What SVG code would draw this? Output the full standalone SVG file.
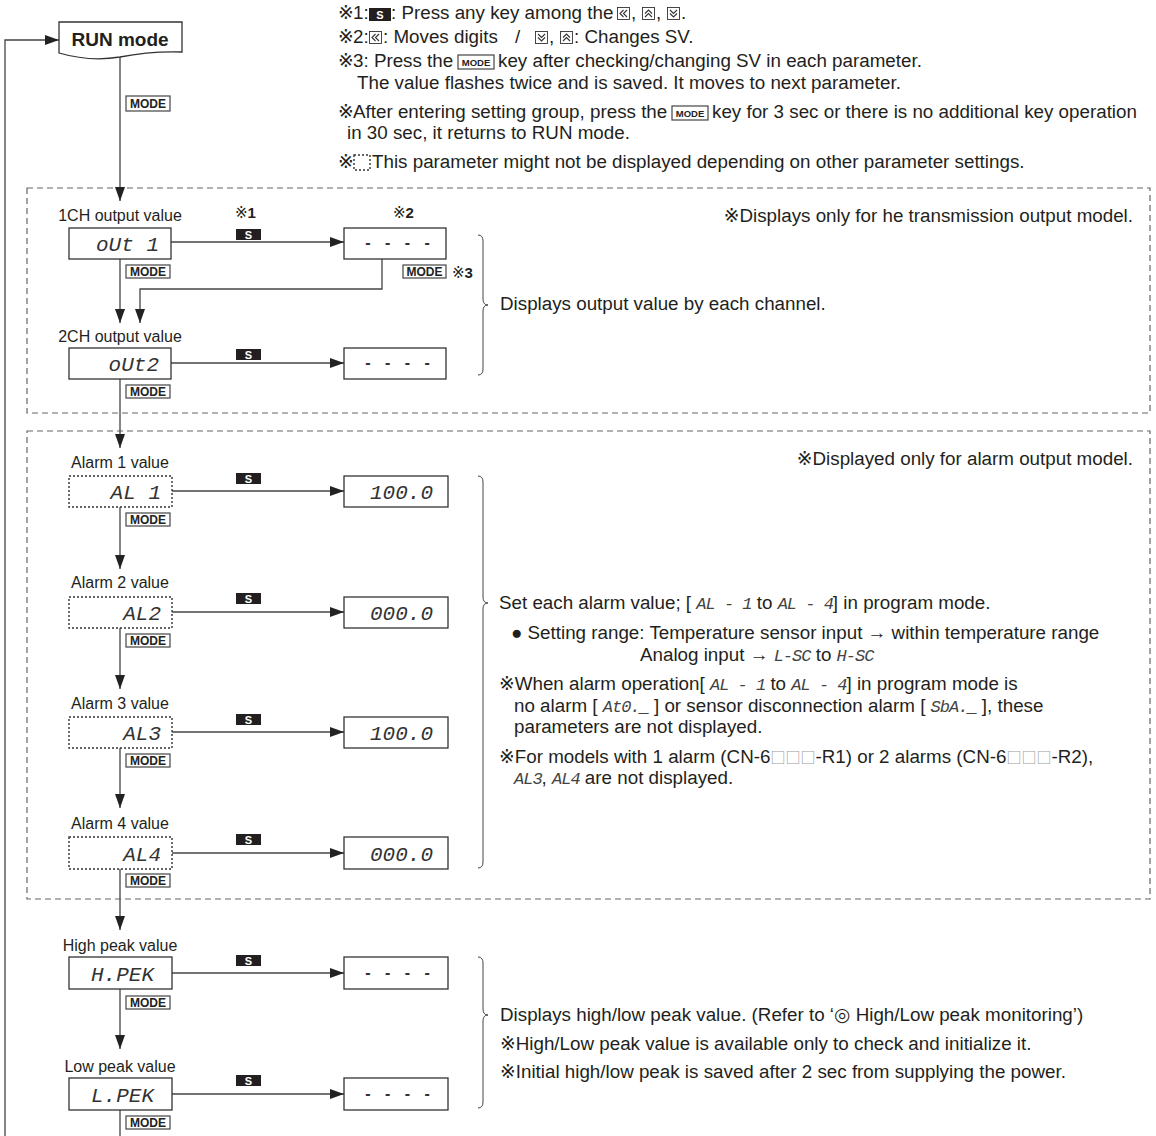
<svg xmlns="http://www.w3.org/2000/svg" width="1156" height="1136" viewBox="0 0 1156 1136">
<defs>
<style>
.t{font-family:"Liberation Sans","DejaVu Sans","Noto Sans CJK JP",sans-serif;font-size:18.8px;fill:#231f20}
.lb{font-family:"Liberation Sans",sans-serif;font-size:16px;fill:#231f20;text-anchor:middle}
.seg{font-family:"Liberation Mono",monospace;font-style:italic;font-size:17px;fill:#444;letter-spacing:-1px}
.sg{font-family:"Liberation Mono",monospace;font-style:italic;font-size:21px;fill:#333}
.dash{font-family:"Liberation Sans",sans-serif;font-weight:bold;font-size:16px;fill:#333;text-anchor:middle;letter-spacing:5px}
.box{fill:#fff;stroke:#333;stroke-width:1.3}
.dbox{fill:#fff;stroke:#333;stroke-width:1.4;stroke-dasharray:2 2}
.grp{fill:none;stroke:#666;stroke-width:1.2;stroke-dasharray:6 4}
.ln{fill:none;stroke:#444;stroke-width:1.3}
.br{fill:none;stroke:#444;stroke-width:1}
.mk{fill:#fff;stroke:#444;stroke-width:1.2}
.mkt{font-family:"Liberation Sans",sans-serif;font-weight:bold;font-size:12px;fill:#222;text-anchor:middle}
.sk{fill:#231f20}
.skt{font-family:"Liberation Sans",sans-serif;font-weight:bold;font-size:11px;fill:#fff;text-anchor:middle}
.ico{fill:#fff;stroke:#333;stroke-width:0.9}
.chev{fill:none;stroke:#333;stroke-width:1.1}
.sq{fill:#999;font-family:"Noto Sans CJK JP",sans-serif;font-size:15px}
</style>
<marker id="ah" viewBox="0 0 14 10" markerWidth="14" markerHeight="10" refX="14" refY="5" orient="auto" markerUnits="userSpaceOnUse"><path d="M0,0 L14,5 L0,10 Z" fill="#222"/></marker>
<symbol id="kL" viewBox="0 0 13 13"><rect class="ico" x="0.5" y="0.5" width="12" height="12"/><polyline class="chev" points="6.5,3 3,6.5 6.5,10"/><polyline class="chev" points="10,3 6.5,6.5 10,10"/></symbol>
<symbol id="kU" viewBox="0 0 13 13"><rect class="ico" x="0.5" y="0.5" width="12" height="12"/><polyline class="chev" points="3,6.5 6.5,3 10,6.5"/><polyline class="chev" points="3,10 6.5,6.5 10,10"/></symbol>
<symbol id="kD" viewBox="0 0 13 13"><rect class="ico" x="0.5" y="0.5" width="12" height="12"/><polyline class="chev" points="3,3 6.5,6.5 10,3"/><polyline class="chev" points="3,6.5 6.5,10 10,6.5"/></symbol>
</defs>
<rect width="1156" height="1136" fill="#fff"/>

<!-- group frames -->
<rect class="grp" x="27" y="188" width="1123" height="225"/>
<rect class="grp" x="27" y="431" width="1123" height="468"/>

<!-- top notes -->
<g id="notes">
<text class="t" x="338" y="19">※</text><text class="t" x="353" y="19">1:</text>
<rect class="sk" x="369" y="8" width="22" height="13"/><text class="skt" x="380" y="18.5">S</text>
<text class="t" x="391" y="19">: Press any key among the</text>
<use href="#kL" x="617" y="7" width="13" height="13"/>
<text class="t" x="631" y="19">,</text>
<use href="#kU" x="642" y="7" width="13" height="13"/>
<text class="t" x="656" y="19">,</text>
<use href="#kD" x="667" y="7" width="13" height="13"/>
<text class="t" x="681" y="19">.</text>

<text class="t" x="338" y="43">※</text><text class="t" x="353" y="43">2:</text>
<use href="#kL" x="369" y="31" width="13" height="13"/>
<text class="t" x="383" y="43">: Moves digits</text>
<text class="t" x="515" y="43">/</text>
<use href="#kD" x="535" y="31" width="13" height="13"/>
<text class="t" x="549" y="43">,</text>
<use href="#kU" x="560" y="31" width="13" height="13"/>
<text class="t" x="574" y="43">: Changes SV.</text>

<text class="t" x="338" y="67">※</text><text class="t" x="353" y="67">3: Press the</text>
<rect class="mk" x="458" y="55" width="36" height="14"/><text class="mkt" x="476" y="66" style="font-size:9.5px">MODE</text>
<text class="t" x="498" y="67">key after checking/changing SV in each parameter.</text>
<text class="t" x="357" y="89">The value flashes twice and is saved. It moves to next parameter.</text>

<text class="t" x="338" y="118">※</text><text class="t" x="353" y="118">After entering setting group, press the</text>
<rect class="mk" x="672" y="106" width="36" height="14"/><text class="mkt" x="690" y="117" style="font-size:9.5px">MODE</text>
<text class="t" x="712" y="118">key for 3 sec or there is no additional key operation</text>
<text class="t" x="347" y="139">in 30 sec, it returns to RUN mode.</text>

<text class="t" x="338" y="168">※</text>
<rect class="dbox" x="354" y="155" width="16" height="15"/>
<text class="t" x="372" y="168">This parameter might not be displayed depending on other parameter settings.</text>
</g>

<!-- connectors -->
<g id="connectors">
<polyline class="ln" points="5,1136 5,40 59,40" marker-end="url(#ah)"/>
<line class="ln" x1="120" y1="57" x2="120" y2="201" marker-end="url(#ah)"/>
<line class="ln" x1="171" y1="242" x2="344" y2="242" marker-end="url(#ah)"/>
<line class="ln" x1="120" y1="259" x2="120" y2="323" marker-end="url(#ah)"/>
<polyline class="ln" points="382,259 382,289 140,289 140,323" marker-end="url(#ah)"/>
<line class="ln" x1="171" y1="363" x2="344" y2="363" marker-end="url(#ah)"/>
<line class="ln" x1="120" y1="379" x2="120" y2="448" marker-end="url(#ah)"/>
<line class="ln" x1="172" y1="491" x2="344" y2="491" marker-end="url(#ah)"/>
<line class="ln" x1="120" y1="507" x2="120" y2="569" marker-end="url(#ah)"/>
<line class="ln" x1="172" y1="612" x2="344" y2="612" marker-end="url(#ah)"/>
<line class="ln" x1="120" y1="628" x2="120" y2="689" marker-end="url(#ah)"/>
<line class="ln" x1="172" y1="732" x2="344" y2="732" marker-end="url(#ah)"/>
<line class="ln" x1="120" y1="748" x2="120" y2="808" marker-end="url(#ah)"/>
<line class="ln" x1="172" y1="853" x2="344" y2="853" marker-end="url(#ah)"/>
<line class="ln" x1="120" y1="869" x2="120" y2="930" marker-end="url(#ah)"/>
<line class="ln" x1="172" y1="973" x2="344" y2="973" marker-end="url(#ah)"/>
<line class="ln" x1="120" y1="989" x2="120" y2="1049" marker-end="url(#ah)"/>
<line class="ln" x1="172" y1="1094" x2="344" y2="1094" marker-end="url(#ah)"/>
<line class="ln" x1="120" y1="1110" x2="120" y2="1136"/>
<!-- key labels on connectors -->
<rect class="mk" x="126" y="96" width="44" height="15"/><text class="mkt" x="148" y="108">MODE</text>
<rect class="mk" x="126" y="265" width="44" height="13"/><text class="mkt" x="148" y="276">MODE</text>
<rect class="mk" x="403" y="265" width="43" height="13"/><text class="mkt" x="424.5" y="276">MODE</text>
<text class="t" x="452" y="278" style="font-size:15px">※<tspan font-weight="bold">3</tspan></text>
<rect class="mk" x="126" y="385" width="44" height="13"/><text class="mkt" x="148" y="396">MODE</text>
<rect class="mk" x="126" y="513" width="44" height="13"/><text class="mkt" x="148" y="524">MODE</text>
<rect class="mk" x="126" y="634" width="44" height="13"/><text class="mkt" x="148" y="645">MODE</text>
<rect class="mk" x="126" y="754" width="44" height="13"/><text class="mkt" x="148" y="765">MODE</text>
<rect class="mk" x="126" y="874" width="44" height="13"/><text class="mkt" x="148" y="885">MODE</text>
<rect class="mk" x="126" y="996" width="44" height="13"/><text class="mkt" x="148" y="1007">MODE</text>
<rect class="mk" x="126" y="1116" width="44" height="13"/><text class="mkt" x="148" y="1127">MODE</text>
<text class="t" x="235" y="218" style="font-size:15px">※<tspan font-weight="bold">1</tspan></text>
<text class="t" x="393" y="218" style="font-size:15px">※<tspan font-weight="bold">2</tspan></text>
<rect class="sk" x="236" y="229" width="25" height="11"/><text class="skt" x="248.5" y="238.5">S</text>
<rect class="sk" x="236" y="349" width="25" height="11"/><text class="skt" x="248.5" y="358.5">S</text>
<rect class="sk" x="236" y="473" width="25" height="11"/><text class="skt" x="248.5" y="482.5">S</text>
<rect class="sk" x="236" y="593" width="25" height="11"/><text class="skt" x="248.5" y="602.5">S</text>
<rect class="sk" x="236" y="714" width="25" height="11"/><text class="skt" x="248.5" y="723.5">S</text>
<rect class="sk" x="236" y="834" width="25" height="11"/><text class="skt" x="248.5" y="843.5">S</text>
<rect class="sk" x="236" y="955" width="25" height="11"/><text class="skt" x="248.5" y="964.5">S</text>
<rect class="sk" x="236" y="1075" width="25" height="11"/><text class="skt" x="248.5" y="1084.5">S</text>
</g>

<!-- RUN mode -->
<g id="run">
<path class="box" d="M59,22 H182 V52 Q150,51 120,57 Q90,62 59,53 Z" stroke-width="1.6"/>
<text x="120" y="46" text-anchor="middle" style="font-family:'Liberation Sans',sans-serif;font-weight:bold;font-size:19px;fill:#231f20">RUN mode</text>
</g>

<!-- 1CH / 2CH -->
<g id="out1">
<text class="lb" x="120" y="221">1CH output value</text>
<rect class="box" x="69" y="228" width="102" height="31"/>
<text class="sg" x="159" y="251" text-anchor="end">oUt 1</text>
</g>
<g id="out1v"><rect class="box" x="344" y="228" width="102" height="31"/><text class="dash" x="400" y="248">- - - -</text></g>
<g id="out2">
<text class="lb" x="120" y="342">2CH output value</text>
<rect class="box" x="69" y="348" width="102" height="31"/>
<text class="sg" x="159" y="371" text-anchor="end">oUt2</text>
</g>
<g id="out2v"><rect class="box" x="344" y="348" width="102" height="31"/><text class="dash" x="400" y="368">- - - -</text></g>

<!-- alarms -->
<g id="al1"><text class="lb" x="120" y="468">Alarm 1 value</text><rect class="dbox" x="69" y="476" width="103" height="31"/><text class="sg" x="161" y="499" text-anchor="end">AL 1</text></g>
<g id="al1v"><rect class="box" x="344" y="476" width="104" height="31"/><text class="sg" x="433" y="499" text-anchor="end">100.0</text></g>
<g id="al2"><text class="lb" x="120" y="588">Alarm 2 value</text><rect class="dbox" x="69" y="597" width="103" height="31"/><text class="sg" x="161" y="620" text-anchor="end">AL2</text></g>
<g id="al2v"><rect class="box" x="344" y="597" width="104" height="31"/><text class="sg" x="433" y="620" text-anchor="end">000.0</text></g>
<g id="al3"><text class="lb" x="120" y="709">Alarm 3 value</text><rect class="dbox" x="69" y="717" width="103" height="31"/><text class="sg" x="161" y="740" text-anchor="end">AL3</text></g>
<g id="al3v"><rect class="box" x="344" y="717" width="104" height="31"/><text class="sg" x="433" y="740" text-anchor="end">100.0</text></g>
<g id="al4"><text class="lb" x="120" y="829">Alarm 4 value</text><rect class="dbox" x="69" y="837" width="103" height="32"/><text class="sg" x="161" y="861" text-anchor="end">AL4</text></g>
<g id="al4v"><rect class="box" x="344" y="837" width="104" height="32"/><text class="sg" x="433" y="861" text-anchor="end">000.0</text></g>

<!-- peaks -->
<g id="hpek"><text class="lb" x="120" y="951">High peak value</text><rect class="box" x="69" y="957" width="103" height="32"/><text class="sg" x="91" y="981">H.PEK</text></g>
<g id="hpekv"><rect class="box" x="344" y="957" width="104" height="32"/><text class="dash" x="400" y="978">- - - -</text></g>
<g id="lpek"><text class="lb" x="120" y="1072">Low peak value</text><rect class="box" x="69" y="1078" width="103" height="32"/><text class="sg" x="91" y="1102">L.PEK</text></g>
<g id="lpekv"><rect class="box" x="344" y="1078" width="104" height="32"/><text class="dash" x="400" y="1099">- - - -</text></g>

<!-- braces and descriptions -->
<g id="desc1">
<path class="br" d="M478,235 Q483,235 483,241 V299 Q483,305 488,305 Q483,305 483,311 V369 Q483,375 478,375"/>
<text class="t" x="500" y="310">Displays output value by each channel.</text>
<text class="t" x="1133" y="222" text-anchor="end">※Displays only for  he transmission output model.</text>
</g>
<g id="desc2">
<path class="br" d="M478,476 Q483,476 483,482 V597 Q483,603 488,603 Q483,603 483,609 V862 Q483,868 478,868"/>
<text class="t" x="1133" y="465" text-anchor="end">※Displayed only for alarm output model.</text>
<text class="t" x="499" y="609">Set each alarm value; [ <tspan class="seg">AL - 1</tspan> to <tspan class="seg">AL - 4</tspan>] in program mode.</text>
<text class="t" x="511" y="639">● Setting range: Temperature sensor input → within temperature range</text>
<text class="t" x="640" y="661">Analog input → <tspan class="seg">L-SC</tspan> to <tspan class="seg">H-SC</tspan></text>
<text class="t" x="499" y="690">※When alarm operation[ <tspan class="seg">AL - 1</tspan> to <tspan class="seg">AL - 4</tspan>] in program mode is</text>
<text class="t" x="514" y="712">no alarm [ <tspan class="seg">At0._</tspan> ] or sensor disconnection alarm [ <tspan class="seg">SbA._</tspan> ], these</text>
<text class="t" x="514" y="733">parameters are not displayed.</text>
<text class="t" x="499" y="763">※For models with 1 alarm (CN-6<tspan class="sq">□□□</tspan>-R1) or 2 alarms (CN-6<tspan class="sq">□□□</tspan>-R2),</text>
<text class="t" x="514" y="784"><tspan class="seg">AL3</tspan>, <tspan class="seg">AL4</tspan> are not displayed.</text>
</g>
<g id="desc3">
<path class="br" d="M478,957 Q483,957 483,963 V1009 Q483,1015 488,1015 Q483,1015 483,1021 V1102 Q483,1108 478,1108"/>
<text class="t" x="500" y="1021">Displays high/low peak value. (Refer to ‘◎ High/Low peak monitoring’)</text>
<text class="t" x="500" y="1050">※High/Low peak value is available only to check and initialize it.</text>
<text class="t" x="500" y="1078">※Initial high/low peak is saved after 2 sec from supplying the power.</text>
</g>
</svg>
